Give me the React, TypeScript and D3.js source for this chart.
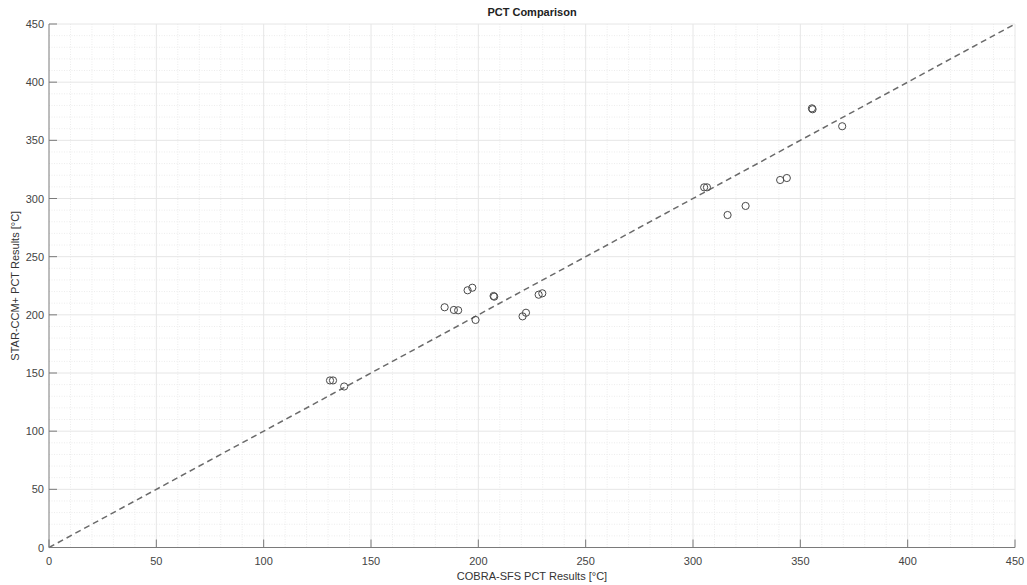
import React from "react";
import * as d3 from "d3";

// COBRA-SFS vs STAR-CCM+ peak cladding temperatures [°C]
const cobraPct = [
  130.9, 132.3, 137.5,
  184.3, 188.6, 190.6, 195.0, 197.2, 198.7, 207.1, 207.4, 220.6, 222.2, 228.1, 229.8,
  305.2, 306.5, 316.1, 324.5, 340.6, 343.7, 355.4, 355.7, 369.5,
];
const starPct = [
  143.6, 143.6, 138.4,
  206.5, 204.2, 203.9, 221.1, 223.3, 195.6, 216.2, 215.6, 198.7, 201.8, 217.3, 218.5,
  309.6, 309.6, 285.8, 293.6, 315.9, 317.6, 377.5, 376.7, 362.1,
];
const majorTicks = [0, 50, 100, 150, 200, 250, 300, 350, 400, 450];
const minorTicks = d3.range(0, 451, 10).filter((v) => v % 50 !== 0);
const parityLine = [0, 450];

const W = 1027;
const H = 585;
const M = { left: 49, right: 1015, top: 24, bottom: 547.5 };
const FONT = "'Liberation Sans', Arial, Helvetica, sans-serif";

export default function App() {
  const x = d3.scaleLinear().domain([0, 450]).range([M.left, M.right]);
  const y = d3.scaleLinear().domain([0, 450]).range([M.bottom, M.top]);
  const line = d3
    .line<number>()
    .x((v) => x(v))
    .y((v) => y(v));

  const points = cobraPct.map((c, i) => ({ c, s: starPct[i] }));

  return (
    <svg
      width={W}
      height={H}
      style={{ position: "absolute", left: 0, top: 0, background: "#fff" }}
      fontFamily={FONT}
    >
      {/* minor grid */}
      <g stroke="#ececec" strokeWidth={1} strokeDasharray="1,1.5">
        {minorTicks.map((v) => (
          <line key={"mx" + v} x1={x(v)} x2={x(v)} y1={M.top} y2={M.bottom} />
        ))}
        {minorTicks.map((v) => (
          <line key={"my" + v} x1={M.left} x2={M.right} y1={y(v)} y2={y(v)} />
        ))}
      </g>
      {/* major grid */}
      <g stroke="#e6e6e6" strokeWidth={1}>
        {majorTicks.slice(1).map((v) => (
          <line key={"gx" + v} x1={x(v)} x2={x(v)} y1={M.top} y2={M.bottom} />
        ))}
        {majorTicks.slice(1).map((v) => (
          <line key={"gy" + v} x1={M.left} x2={M.right} y1={y(v)} y2={y(v)} />
        ))}
      </g>

      {/* parity line */}
      <path
        d={line(parityLine) || ""}
        fill="none"
        stroke="#6a6a6a"
        strokeWidth={1.5}
        strokeDasharray="6,4"
      />

      {/* data points */}
      <g fill="none" stroke="#4a4a4a" strokeWidth={1}>
        {points.map((p, i) => (
          <circle key={i} cx={x(p.c)} cy={y(p.s)} r={3.6} />
        ))}
      </g>

      {/* axes */}
      <g stroke="#7a7a7a" strokeWidth={1}>
        <line x1={M.left} x2={M.right} y1={M.bottom} y2={M.bottom} />
        <line x1={M.left} x2={M.left} y1={M.top} y2={M.bottom} />
        {majorTicks.map((v) => (
          <line key={"tx" + v} x1={x(v)} x2={x(v)} y1={M.bottom} y2={M.bottom - 8} />
        ))}
        {majorTicks.map((v) => (
          <line key={"ty" + v} x1={M.left} x2={M.left + 8} y1={y(v)} y2={y(v)} />
        ))}
      </g>

      {/* tick labels */}
      <g fontSize={11} fill="#444">
        {majorTicks.map((v) => (
          <text key={"lx" + v} x={x(v)} y={M.bottom + 17} textAnchor="middle">
            {v}
          </text>
        ))}
        {majorTicks.map((v) => (
          <text key={"ly" + v} x={M.left - 5} y={y(v) + 4} textAnchor="end">
            {v}
          </text>
        ))}
      </g>

      {/* labels */}
      <text
        x={(M.left + M.right) / 2}
        y={16}
        textAnchor="middle"
        fontSize={11}
        fontWeight="bold"
        fill="#222"
      >
        PCT Comparison
      </text>
      <text
        x={(M.left + M.right) / 2}
        y={580}
        textAnchor="middle"
        fontSize={11}
        fill="#333"
      >
        COBRA-SFS PCT Results [°C]
      </text>
      <text
        transform={`translate(19,${(M.top + M.bottom) / 2}) rotate(-90)`}
        textAnchor="middle"
        fontSize={11}
        fill="#333"
      >
        STAR-CCM+ PCT Results [°C]
      </text>
    </svg>
  );
}
